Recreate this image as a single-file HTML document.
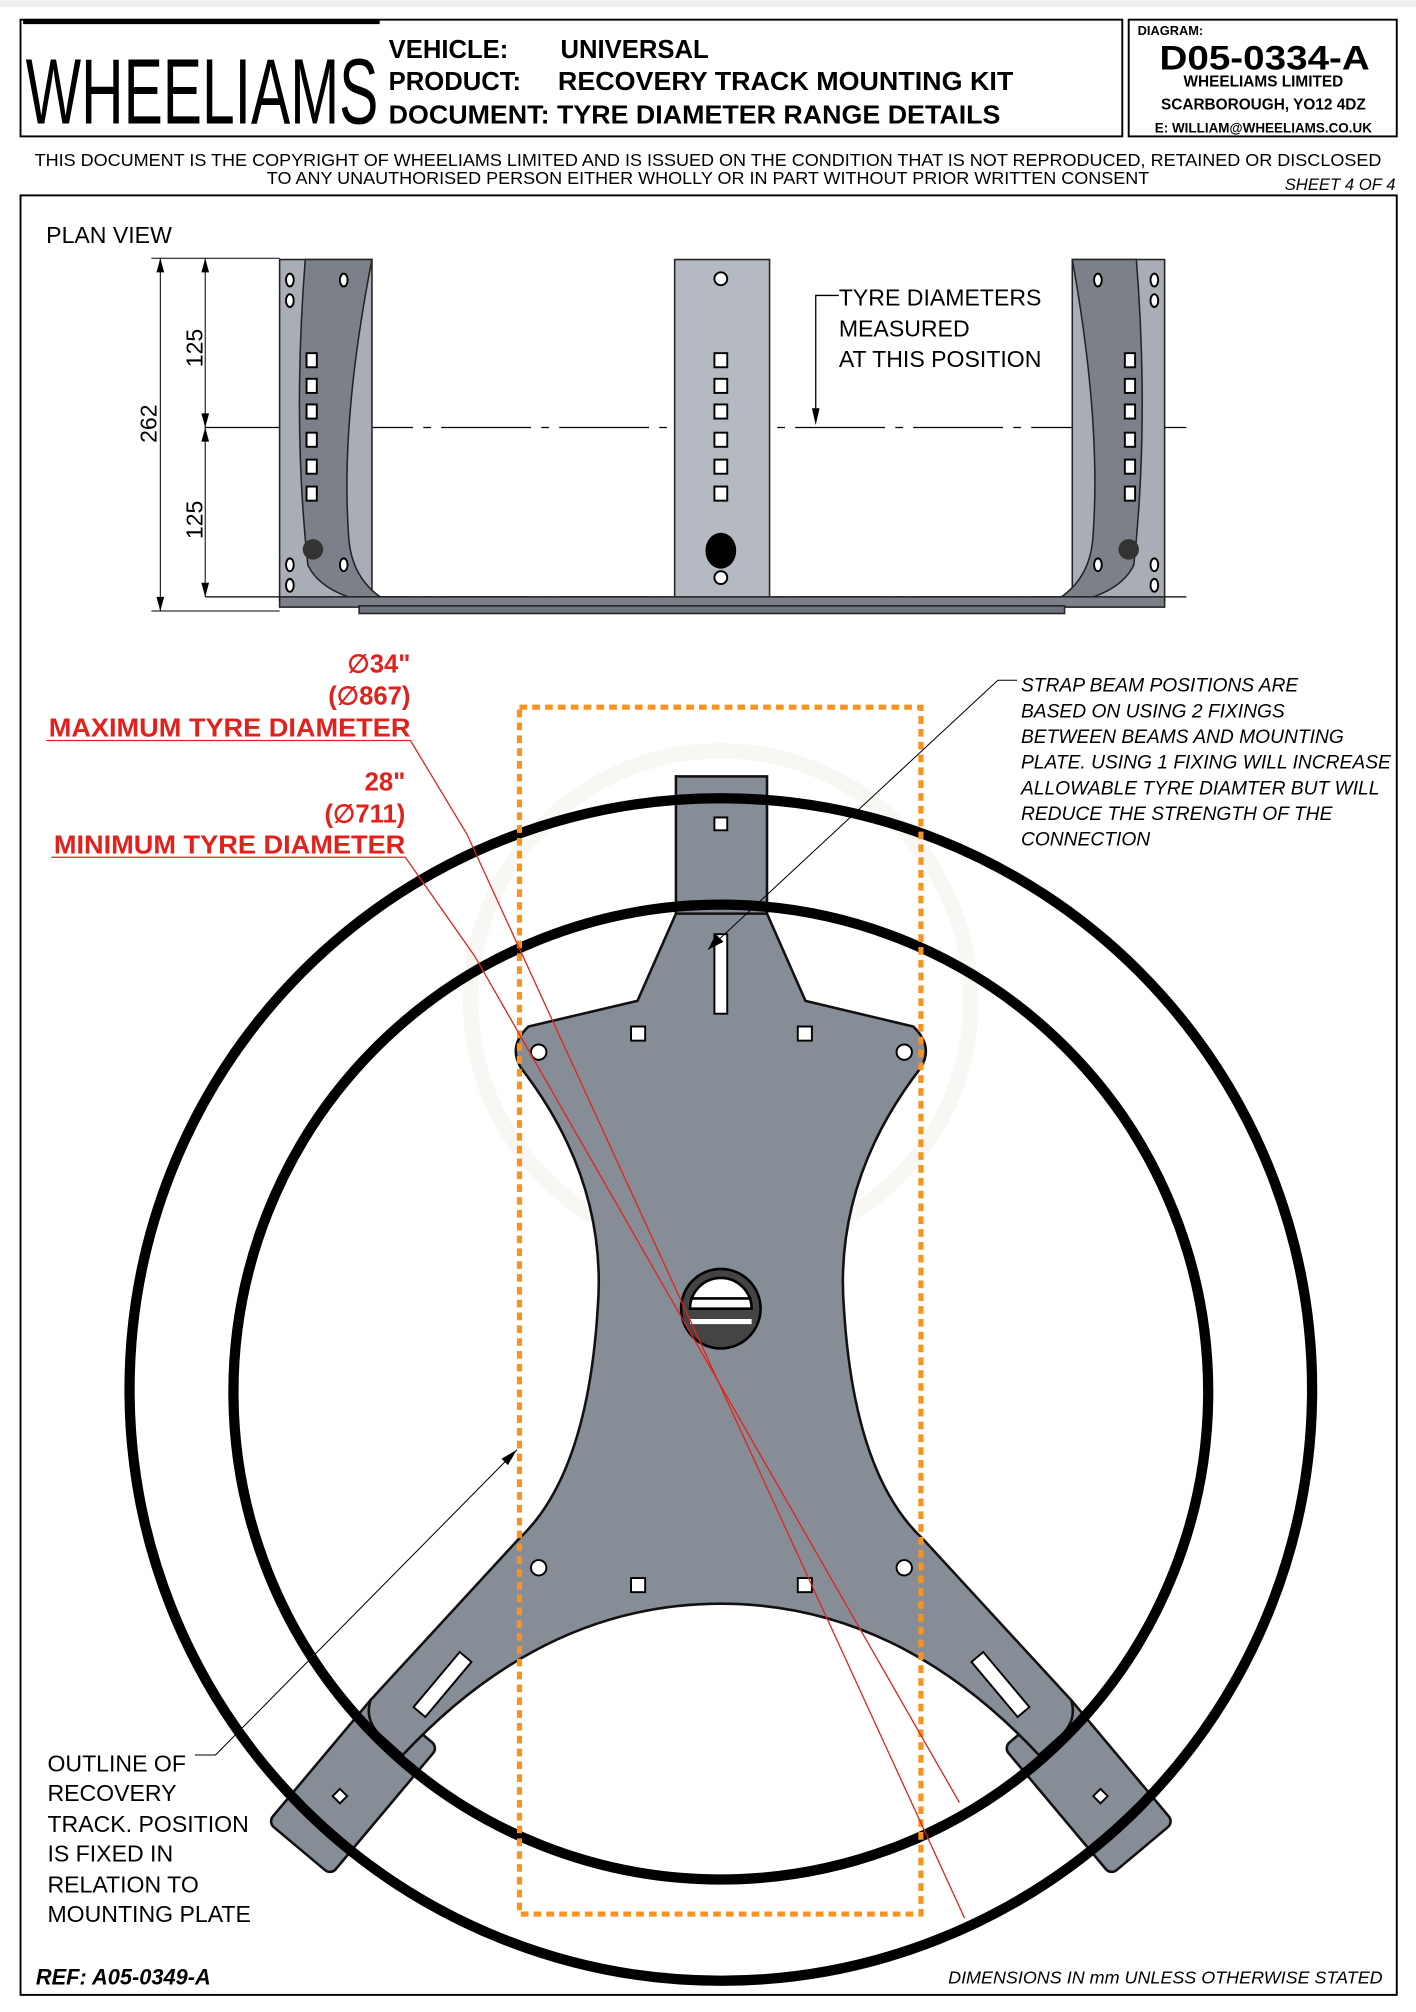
<!DOCTYPE html>
<html><head><meta charset="utf-8"><style>
html,body{margin:0;padding:0;background:#fff;}
svg{display:block;}
text{font-family:"Liberation Sans",sans-serif;}
</style></head><body>
<svg width="1416" height="2012" viewBox="0 0 1104 1568" xmlns="http://www.w3.org/2000/svg">
<rect x="0" y="0" width="1104" height="1568" fill="#fff"/>
<rect x="0" y="0" width="1104" height="5" fill="#eee"/>
<!-- header -->
<rect x="16" y="15" width="859" height="91" fill="none" stroke="#000" stroke-width="1.5"/>
<rect x="880" y="15" width="209" height="91" fill="none" stroke="#000" stroke-width="1.5"/>
<text x="20" y="96" font-size="72" font-weight="normal" textLength="275" lengthAdjust="spacingAndGlyphs" style="font-family:'Liberation Sans Narrow','Liberation Sans',sans-serif">WHEELIAMS</text>
<line x1="18" y1="17" x2="296" y2="17" stroke="#000" stroke-width="3"/>
<g font-weight="bold" font-size="20">
<text x="303" y="45">VEHICLE:</text><text x="437" y="45">UNIVERSAL</text>
<text x="303" y="70">PRODUCT:</text><text x="435" y="70" textLength="355" lengthAdjust="spacingAndGlyphs">RECOVERY TRACK MOUNTING KIT</text>
<text x="303" y="96" textLength="477" lengthAdjust="spacingAndGlyphs">DOCUMENT: TYRE DIAMETER RANGE DETAILS</text>
</g>
<text x="887" y="27" font-size="10" font-weight="bold">DIAGRAM:</text>
<text x="986" y="54" font-size="27" font-weight="bold" text-anchor="middle" textLength="164" lengthAdjust="spacingAndGlyphs">D05-0334-A</text>
<text x="985" y="67" font-size="12" font-weight="bold" text-anchor="middle">WHEELIAMS LIMITED</text>
<text x="985" y="85" font-size="12" font-weight="bold" text-anchor="middle">SCARBOROUGH, YO12 4DZ</text>
<text x="985" y="103" font-size="10.5" font-weight="bold" text-anchor="middle">E: WILLIAM@WHEELIAMS.CO.UK</text>
<text x="552" y="129" font-size="14" text-anchor="middle" textLength="1050" lengthAdjust="spacingAndGlyphs">THIS DOCUMENT IS THE COPYRIGHT OF WHEELIAMS LIMITED AND IS ISSUED ON THE CONDITION THAT IS NOT REPRODUCED, RETAINED OR DISCLOSED</text>
<text x="552" y="143" font-size="14" text-anchor="middle" textLength="688" lengthAdjust="spacingAndGlyphs">TO ANY UNAUTHORISED PERSON EITHER WHOLLY OR IN PART WITHOUT PRIOR WRITTEN CONSENT</text>
<text x="1088" y="148" font-size="13" font-style="italic" text-anchor="end">SHEET 4 OF 4</text>
<rect x="16" y="152" width="1073" height="1403" fill="none" stroke="#000" stroke-width="1.5"/>
<text x="36" y="189" font-size="18">PLAN VIEW</text>

<!-- plan view -->
<g stroke="#000" fill="none">
<line x1="118" y1="201" x2="218" y2="201" stroke-width="0.8"/>
<line x1="118" y1="476" x2="218" y2="476" stroke-width="0.8"/>
<line x1="125" y1="201" x2="125" y2="476" stroke-width="0.8"/>
<line x1="160" y1="201" x2="160" y2="465" stroke-width="0.8"/>
<line x1="160" y1="333" x2="925" y2="333" stroke-width="1" stroke-dasharray="70,8,6,8"/>
<line x1="160" y1="465" x2="925" y2="465" stroke-width="1" stroke-dasharray="70,8,6,8"/>
<polyline points="654,230 636,230 636,325" stroke-width="1"/>
</g>
<g fill="#000">
<polygon points="125,201 122,212 128,212"/><polygon points="125,476 122,465 128,465"/>
<polygon points="160,201 157,212 163,212"/><polygon points="160,333 157,322 163,322"/>
<polygon points="160,333 157,344 163,344"/><polygon points="160,465 157,454 163,454"/>
<polygon points="636,331 633,318 639,318"/>
</g>
<g font-size="18">
<text transform="translate(122,345) rotate(-90)">262</text>
<text transform="translate(158,286) rotate(-90)">125</text>
<text transform="translate(158,420) rotate(-90)">125</text>
<text x="654" y="238">TYRE DIAMETERS</text>
<text x="654" y="262">MEASURED</text>
<text x="654" y="286">AT THIS POSITION</text>
</g>
<!-- brackets -->
<g stroke="#222" stroke-width="1.2">
<rect x="218" y="202" width="72" height="266" fill="#a9adb5"/>
<path d="M238,202 Q228,330 240,440 Q250,462 290,470 L305,470 Q275,455 272,420 Q265,330 290,202 Z" fill="#7c8089"/>
<rect x="526" y="202" width="74" height="268" fill="#b5b9c1"/>
<rect x="836" y="202" width="72" height="266" fill="#a9adb5"/>
<path d="M886,202 Q896,330 884,440 Q874,462 834,470 L819,470 Q849,455 852,420 Q859,330 836,202 Z" fill="#7c8089"/>
<rect x="218" y="465" width="690" height="8" fill="#7c8089"/>
<rect x="280" y="472" width="550" height="6" fill="#6f737b"/>
</g>
<g fill="#fff" stroke="#000" stroke-width="1.5">
<circle cx="562" cy="217" r="5"/><circle cx="562" cy="450" r="5"/>
<rect x="557" y="275" width="10" height="11"/><rect x="557" y="295" width="10" height="11"/><rect x="557" y="315" width="10" height="11"/><rect x="557" y="337" width="10" height="11"/><rect x="557" y="358" width="10" height="11"/><rect x="557" y="379" width="10" height="11"/>
<rect x="239" y="275" width="8" height="11"/><rect x="239" y="295" width="8" height="11"/><rect x="239" y="315" width="8" height="11"/><rect x="239" y="337" width="8" height="11"/><rect x="239" y="358" width="8" height="11"/><rect x="239" y="379" width="8" height="11"/>
<rect x="877" y="275" width="8" height="11"/><rect x="877" y="295" width="8" height="11"/><rect x="877" y="315" width="8" height="11"/><rect x="877" y="337" width="8" height="11"/><rect x="877" y="358" width="8" height="11"/><rect x="877" y="379" width="8" height="11"/>
<ellipse cx="226" cy="218" rx="3" ry="5"/><ellipse cx="226" cy="234" rx="3" ry="5"/><ellipse cx="268" cy="218" rx="3" ry="5"/><ellipse cx="226" cy="440" rx="3" ry="5"/><ellipse cx="226" cy="456" rx="3" ry="5"/><ellipse cx="268" cy="440" rx="3" ry="5"/>
<ellipse cx="900" cy="218" rx="3" ry="5"/><ellipse cx="900" cy="234" rx="3" ry="5"/><ellipse cx="856" cy="218" rx="3" ry="5"/><ellipse cx="900" cy="440" rx="3" ry="5"/><ellipse cx="900" cy="456" rx="3" ry="5"/><ellipse cx="856" cy="440" rx="3" ry="5"/>
</g>
<ellipse cx="562" cy="429" rx="12" ry="14" fill="#000"/>
<circle cx="244" cy="428" r="8" fill="#333"/><circle cx="880" cy="428" r="8" fill="#333"/>

<!-- watermark -->
<circle cx="562" cy="780" r="195" fill="none" stroke="#f8f7f3" stroke-width="12"/>

<!-- plate -->
<g stroke="#111" stroke-width="2" fill="#878d96">
<rect x="527" y="605" width="71" height="112"/>
<g transform="translate(272,1395) rotate(40)"><rect x="-32" y="-70" width="64" height="130" rx="6"/></g>
<g transform="translate(852,1395) rotate(-40)"><rect x="-32" y="-70" width="64" height="130" rx="6"/></g>
<path d="M527,712 L598,712 L628,780 L712,800 Q728,815 718,832 Q650,920 658,1020 Q666,1150 720,1200 L835,1325 Q840,1340 828,1352 L810,1368 Q700,1250 562,1250 Q424,1250 314,1368 L296,1352 Q284,1340 289,1325 L404,1200 Q458,1150 466,1020 Q474,920 406,832 Q396,815 412,800 L497,780 Z"/>
</g>
<circle cx="562" cy="1083" r="461" fill="none" stroke="#000" stroke-width="8"/>
<circle cx="562" cy="1085" r="380" fill="none" stroke="#000" stroke-width="8"/>
<g fill="#fff" stroke="#000" stroke-width="1.5">
<circle cx="420" cy="820" r="6"/><circle cx="705" cy="820" r="6"/><circle cx="420" cy="1222" r="6"/><circle cx="705" cy="1222" r="6"/>
<rect x="492" y="800" width="11" height="11"/><rect x="622" y="800" width="11" height="11"/><rect x="492" y="1230" width="11" height="11"/><rect x="622" y="1230" width="11" height="11"/>
<rect x="557" y="637" width="10" height="10"/><rect x="557" y="728" width="10" height="62"/>
<g transform="translate(345,1313) rotate(40)"><rect x="-6" y="-28" width="12" height="56"/></g>
<g transform="translate(780,1313) rotate(-40)"><rect x="-6" y="-28" width="12" height="56"/></g>
<g transform="translate(265,1400) rotate(45)"><rect x="-4" y="-4" width="8" height="8"/></g>
<g transform="translate(858,1400) rotate(45)"><rect x="-4" y="-4" width="8" height="8"/></g>
</g>
<circle cx="562" cy="1020" r="31" fill="#444" stroke="#000" stroke-width="2"/>
<path d="M538,1020 A24,24 0 0 1 586,1020 Z" fill="#fff" stroke="#000" stroke-width="2"/>
<line x1="538" y1="1012" x2="586" y2="1012" stroke="#000" stroke-width="2"/>
<line x1="538" y1="1030" x2="586" y2="1030" stroke="#fff" stroke-width="4"/>

<!-- orange dashed rect -->
<rect x="405" y="551" width="313" height="941" fill="none" stroke="#f7931e" stroke-width="4" stroke-dasharray="6,4"/>

<!-- red lines -->
<g stroke="#e3211c" stroke-width="1" fill="none">
<polyline points="36,577 320,577 364,650 752,1495"/>
<polyline points="40,668 316,668 370,745 748,1405"/>
</g>
<g fill="#e3211c" font-weight="bold" font-size="20">
<text x="320" y="524" text-anchor="end">∅34"</text>
<text x="320" y="549" text-anchor="end">(∅867)</text>
<text x="38" y="574" textLength="282" lengthAdjust="spacingAndGlyphs">MAXIMUM TYRE DIAMETER</text>
<text x="316" y="616" text-anchor="end">28"</text>
<text x="316" y="641" text-anchor="end">(∅711)</text>
<text x="42" y="665" textLength="274" lengthAdjust="spacingAndGlyphs">MINIMUM TYRE DIAMETER</text>
</g>

<!-- leaders -->
<g stroke="#000" stroke-width="0.8" fill="none">
<polyline points="793,530 778,530 552,740"/>
<polyline points="152,1368 168,1368 403,1130"/>
</g>
<polygon points="552,740 558,728 564,734" fill="#000"/>
<polygon points="403,1130 396,1142 391,1137" fill="#000"/>
<g font-size="15" font-style="italic">
<text x="796" y="539">STRAP BEAM POSITIONS ARE</text>
<text x="796" y="559">BASED ON USING 2 FIXINGS</text>
<text x="796" y="579">BETWEEN BEAMS AND MOUNTING</text>
<text x="796" y="599">PLATE. USING 1 FIXING WILL INCREASE</text>
<text x="796" y="619">ALLOWABLE TYRE DIAMTER BUT WILL</text>
<text x="796" y="639">REDUCE THE STRENGTH OF THE</text>
<text x="796" y="659">CONNECTION</text>
</g>
<g font-size="18">
<text x="37" y="1381">OUTLINE OF</text>
<text x="37" y="1404">RECOVERY</text>
<text x="37" y="1428">TRACK. POSITION</text>
<text x="37" y="1451">IS FIXED IN</text>
<text x="37" y="1475">RELATION TO</text>
<text x="37" y="1498">MOUNTING PLATE</text>
</g>
<text x="28" y="1547" font-size="17" font-weight="bold" font-style="italic">REF: A05-0349-A</text>
<text x="1078" y="1546" font-size="14" font-style="italic" text-anchor="end">DIMENSIONS IN mm UNLESS OTHERWISE STATED</text>
</svg>
</body></html>
